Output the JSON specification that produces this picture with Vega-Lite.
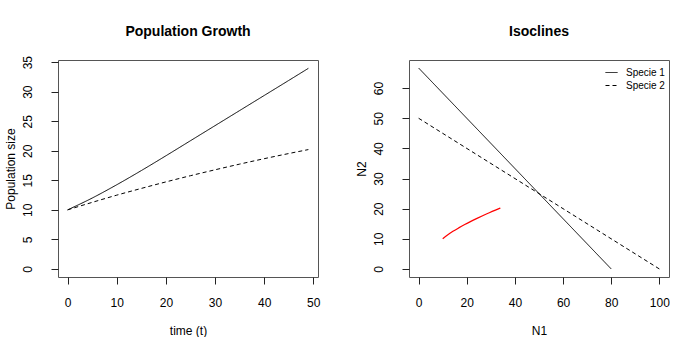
{
  "$schema": "https://vega.github.io/schema/vega-lite/v6.json",
  "background": "white",
  "padding": {"left": 3, "top": 24, "right": 0, "bottom": 0},
  "bounds": "flush",
  "spacing": 91,
  "config": {
    "font": "Liberation Sans",
    "view": {"stroke": "#555", "strokeWidth": 1},
    "axis": {"domain": false, "grid": false, "ticks": true, "tickColor": "#222", "tickSize": 7, "labelFontSize": 12, "labelColor": "black", "titleFontSize": 12, "titleFontWeight": "normal", "titleColor": "black", "labelFont": "Liberation Sans", "titleFont": "Liberation Sans", "labelOverlap": false},
    "axisX": {"labelPadding": 13, "titlePadding": 17},
    "axisY": {"labelAngle": 270, "labelAlign": "center", "labelBaseline": "bottom", "labelPadding": 17, "titlePadding": 4},
    "title": {"fontSize": 14, "fontWeight": "bold", "font": "Liberation Sans", "baseline": "alphabetic", "color": "black"}
  },
  "datasets": {
    "growth": [
      {"t": 0, "N1": 10, "N2": 10},
      {"t": 5, "N1": 12.0, "N2": 11.27},
      {"t": 10, "N1": 14.25, "N2": 12.49},
      {"t": 15, "N1": 16.65, "N2": 13.63},
      {"t": 20, "N1": 19.15, "N2": 14.73},
      {"t": 25, "N1": 21.7, "N2": 15.78},
      {"t": 30, "N1": 24.25, "N2": 16.78},
      {"t": 35, "N1": 26.8, "N2": 17.74},
      {"t": 40, "N1": 29.35, "N2": 18.66},
      {"t": 45, "N1": 31.9, "N2": 19.53},
      {"t": 49, "N1": 33.95, "N2": 20.2}
    ],
    "iso": [
      {"species": "Specie 1", "N1": 0, "N2": 66.67},
      {"species": "Specie 1", "N1": 80, "N2": 0},
      {"species": "Specie 2", "N1": 0, "N2": 50},
      {"species": "Specie 2", "N1": 100, "N2": 0}
    ]
  },
  "hconcat": [
    {
      "width": 260,
      "height": 217,
      "title": {"text": "Population Growth", "offset": 16},
      "data": {"name": "growth"},
      "transform": [{"fold": ["N1", "N2"], "as": ["series", "value"]}],
      "mark": {"type": "line", "color": "black", "strokeWidth": 1, "interpolate": "monotone"},
      "encoding": {
        "x": {"field": "t", "type": "quantitative", "scale": {"domain": [-1.96, 50.96], "nice": false, "zero": false}, "axis": {"values": [0, 10, 20, 30, 40, 50], "title": "time (t)"}},
        "y": {"field": "value", "type": "quantitative", "scale": {"domain": [-1.36, 35.36], "nice": false, "zero": false}, "axis": {"values": [0, 5, 10, 15, 20, 25, 30, 35], "title": "Population size"}},
        "strokeDash": {"field": "series", "type": "nominal", "scale": {"domain": ["N1", "N2"], "range": [[1, 0], [4, 3]]}, "legend": null}
      }
    },
    {
      "width": 260,
      "height": 217,
      "title": {"text": "Isoclines", "offset": 21},
      "encoding": {
        "x": {"field": "N1", "type": "quantitative", "scale": {"domain": [-4, 104], "nice": false, "zero": false}, "axis": {"values": [0, 20, 40, 60, 80, 100], "title": "N1"}},
        "y": {"field": "N2", "type": "quantitative", "scale": {"domain": [-2.67, 69.33], "nice": false, "zero": false}, "axis": {"values": [0, 10, 20, 30, 40, 50, 60], "title": "N2"}}
      },
      "layer": [
        {
          "data": {"name": "iso"},
          "mark": {"type": "line", "color": "black", "strokeWidth": 1},
          "encoding": {
            "strokeDash": {"field": "species", "type": "nominal", "scale": {"domain": ["Specie 1", "Specie 2"], "range": [[1, 0], [4, 3]]}, "legend": {"title": null, "orient": "none", "legendX": 196, "legendY": 6, "symbolType": "stroke", "symbolSize": 144, "symbolStrokeWidth": 1, "symbolStrokeColor": "black", "labelFontSize": 10, "rowPadding": 1, "labelOffset": 8}}
          }
        },
        {
          "data": {"name": "growth"},
          "mark": {"type": "line", "color": "red", "strokeWidth": 1.2, "interpolate": "monotone"},
          "encoding": {
            "order": {"field": "t", "type": "quantitative"}
          }
        }
      ]
    }
  ],
  "resolve": {"scale": {"x": "independent", "y": "independent", "strokeDash": "independent"}, "legend": {"strokeDash": "independent"}}
}
